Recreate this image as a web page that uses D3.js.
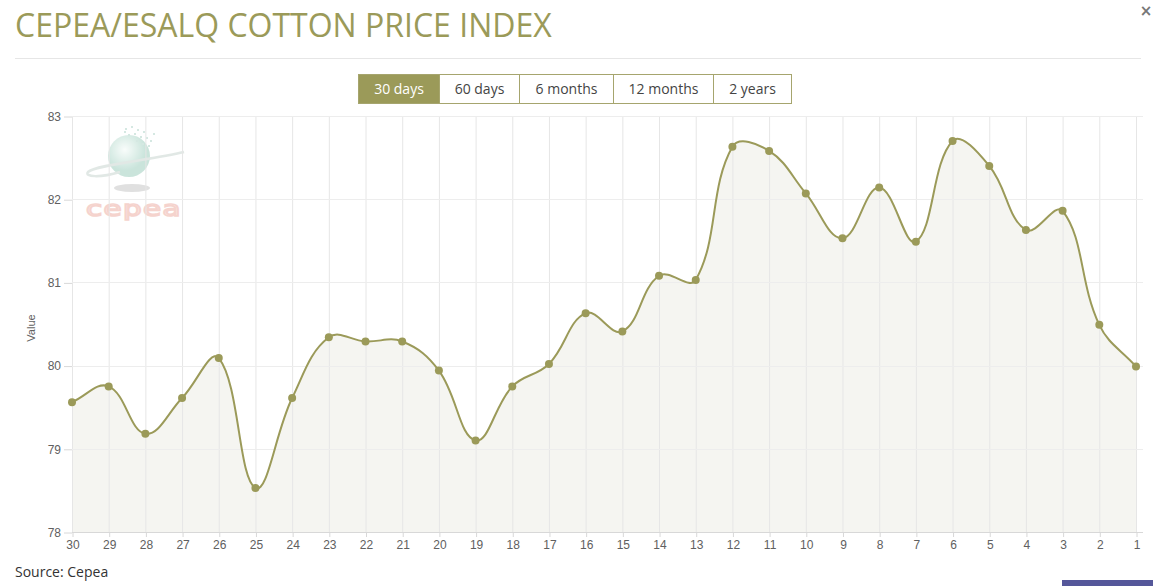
<!DOCTYPE html>
<html>
<head>
<meta charset="utf-8">
<script src="https://cdn.jsdelivr.net/npm/d3@7"></script>
<style>
  html, body { margin: 0; padding: 0; background: #fff; }
  body { width: 1153px; height: 586px; overflow: hidden; position: relative; font-family: "Open Sans", sans-serif; }
  svg { position: absolute; left: 0; top: 0; }
</style>
</head>
<body>
<svg id="chart" width="1153" height="586"></svg>
<script>
// days back (x categories) and index values
let dayLabels = ['30', '29', '28', '27', '26', '25', '24', '23', '22', '21', '20', '19', '18', '17', '16',
                 '15', '14', '13', '12', '11', '10', '9', '8', '7', '6', '5', '4', '3', '2', '1'];
let priceValues = [79.56, 79.75, 79.18, 79.61, 80.09, 78.53, 79.61, 80.34, 80.29, 80.29, 79.94, 79.10, 79.75, 80.02, 80.63,
                   80.41, 81.08, 81.03, 82.63, 82.58, 82.07, 81.53, 82.14, 81.49, 82.70, 82.40, 81.63, 81.86, 80.49, 79.99];
let yTicks = [78, 79, 80, 81, 82, 83];
let rangeButtons = ['30 days', '60 days', '6 months', '12 months', '2 years'];

let olive = '#9b9a59';
let svg = d3.select('#chart');

// distance-weighted spline for d3.line / d3.area (tension 0.4)
function SplineCurve(context) { this._context = context; }
SplineCurve.prototype = {
    areaStart: function () { this._line = 0; },
    areaEnd: function () { this._line = NaN; },
    lineStart: function () { this._pts = []; },
    point: function (x, y) { this._pts.push([+x, +y]); },
    lineEnd: function () {
        let p = this._pts, c = this._context, n = p.length;
        let tension = 0.4;
        if (n) {
            if (this._line) c.lineTo(p[0][0], p[0][1]);
            else c.moveTo(p[0][0], p[0][1]);
            let left = [], right = [];
            for (let i = 0; i < n; i++) {
                let cur = p[i], prev = p[i - 1] || cur, next = p[i + 1] || cur;
                let d01 = Math.hypot(cur[0] - prev[0], cur[1] - prev[1]);
                let d12 = Math.hypot(next[0] - cur[0], next[1] - cur[1]);
                let s01 = d01 / (d01 + d12), s12 = d12 / (d01 + d12);
                if (isNaN(s01)) s01 = 0;
                if (isNaN(s12)) s12 = 0;
                let fa = tension * s01, fb = tension * s12;
                left[i] = [cur[0] - fa * (next[0] - prev[0]), cur[1] - fa * (next[1] - prev[1])];
                right[i] = [cur[0] + fb * (next[0] - prev[0]), cur[1] + fb * (next[1] - prev[1])];
            }
            for (let i = 1; i < n; i++) {
                c.bezierCurveTo(right[i - 1][0], right[i - 1][1], left[i][0], left[i][1], p[i][0], p[i][1]);
            }
        }
        if (this._line || (this._line !== 0 && n === 1)) c.closePath();
        this._line = 1 - this._line;
    }
};
let spline = context => new SplineCurve(context);

// title + rule + close mark
svg.append('text')
    .attr('x', 15).attr('y', 37)
    .attr('font-family', 'Open Sans').attr('font-size', 32)
    .attr('fill', olive)
    .text('CEPEA/ESALQ COTTON PRICE INDEX');
svg.append('line')
    .attr('x1', 15).attr('x2', 1141).attr('y1', 58.5).attr('y2', 58.5)
    .attr('stroke', '#e6e6e6');
svg.append('text')
    .attr('x', 1146).attr('y', 16).attr('text-anchor', 'middle')
    .attr('font-family', 'DejaVu Sans').attr('font-size', 15).attr('font-weight', 'bold')
    .attr('fill', '#777').text('×');

// range selector buttons
let buttonWidths = [81, 80, 94, 100, 78];
let bx = 358.5;
let buttons = svg.append('g');
rangeButtons.forEach((label, i) => {
    let active = i === 0;
    buttons.append('rect')
        .attr('x', bx).attr('y', 74.5).attr('width', buttonWidths[i]).attr('height', 29)
        .attr('fill', active ? olive : '#fff')
        .attr('stroke', '#a6a56e');
    buttons.append('text')
        .attr('x', bx + buttonWidths[i] / 2).attr('y', 94)
        .attr('text-anchor', 'middle')
        .attr('font-family', 'Open Sans').attr('font-size', 14)
        .attr('fill', active ? '#fff' : '#444')
        .text(label);
    bx += buttonWidths[i];
});

// plot area
let plot = {left: 72, right: 1136, top: 116, bottom: 532, edge: 1143};

let xScale = d3.scalePoint()
    .domain(dayLabels)
    .range([plot.left, plot.right]);

let yScale = d3.scaleLinear()
    .domain([78, 83])
    .range([plot.bottom, plot.top]);

// faint cepea logo watermark
let logo = svg.append('g').attr('opacity', 0.55);
let defs = svg.append('defs');
let grad = defs.append('radialGradient').attr('id', 'globe').attr('cx', '40%').attr('cy', '35%');
grad.append('stop').attr('offset', '0%').attr('stop-color', '#f4fbf8');
grad.append('stop').attr('offset', '100%').attr('stop-color', '#9fcfbf');
logo.append('ellipse').attr('cx', 132).attr('cy', 188).attr('rx', 18).attr('ry', 4).attr('fill', '#c8c8c8');
logo.append('circle').attr('cx', 129).attr('cy', 156).attr('r', 21).attr('fill', 'url(#globe)');
logo.append('path')
    .attr('d', 'M184,152 C150,160 95,165 88,172 C84,177 100,178 120,172')
    .attr('fill', 'none').attr('stroke', '#c9d6d0').attr('stroke-width', 2.5);
[[125, 128], [131, 126], [137, 129], [143, 131], [128, 134], [134, 133], [140, 136], [146, 137], [150, 140],
 [136, 140], [142, 143], [148, 145], [153, 133], [124, 131]].forEach(p => {
    logo.append('rect').attr('x', p[0]).attr('y', p[1]).attr('width', 2).attr('height', 2).attr('fill', '#b4d6cc');
});
logo.append('text')
    .attr('x', 134).attr('y', 216).attr('text-anchor', 'middle')
    .attr('font-family', 'DejaVu Sans').attr('font-size', 21).attr('letter-spacing', 1)
    .attr('fill', '#fdf3f1').attr('stroke', '#eeb0a6').attr('stroke-width', 1.6)
    .attr('transform', 'translate(134,0) scale(1.4,1) translate(-134,0)')
    .text('cepea');

// area under the spline
let area = d3.area()
    .x((d, i) => xScale(dayLabels[i]))
    .y0(yScale(78))
    .y1(d => yScale(d))
    .curve(spline);
svg.append('path')
    .datum(priceValues)
    .attr('fill', '#f5f5f1')
    .attr('d', area);

// grid lines
svg.append('g')
    .selectAll('line')
    .data(dayLabels)
    .join('line')
    .attr('x1', d => xScale(d) + 0.5).attr('x2', d => xScale(d) + 0.5)
    .attr('y1', plot.top).attr('y2', plot.bottom)
    .attr('stroke', '#e6e6e6');
svg.append('g')
    .selectAll('line')
    .data(yTicks)
    .join('line')
    .attr('x1', plot.left).attr('x2', plot.edge)
    .attr('y1', d => Math.round(yScale(d)) + 0.5).attr('y2', d => Math.round(yScale(d)) + 0.5)
    .attr('stroke', d => d === 78 ? '#d8d8d8' : '#ededed');

// y axis
let yAxis = d3.axisLeft(yScale)
    .tickValues(yTicks)
    .tickFormat(d3.format('d'))
    .tickSize(8)
    .tickPadding(3);
let yAxisG = svg.append('g')
    .attr('transform', `translate(${plot.left}, 0.5)`)
    .call(yAxis);
yAxisG.select('.domain').remove();
yAxisG.selectAll('line').attr('stroke', '#d8d8d8');
yAxisG.selectAll('text')
    .attr('font-family', 'Liberation Sans').attr('font-size', 12).attr('fill', '#606060');

svg.append('text')
    .attr('transform', 'translate(35, 328) rotate(-90)')
    .attr('text-anchor', 'middle')
    .attr('font-family', 'Liberation Sans').attr('font-size', 11).attr('fill', '#606060')
    .text('Value');

// x axis
let xAxis = d3.axisBottom(xScale)
    .tickSize(5)
    .tickPadding(3);
let xAxisG = svg.append('g')
    .attr('transform', `translate(0.5, ${plot.bottom})`)
    .call(xAxis);
xAxisG.select('.domain').remove();
xAxisG.selectAll('line').attr('stroke', '#d8d8d8');
xAxisG.selectAll('text')
    .attr('font-family', 'Liberation Sans').attr('font-size', 12).attr('fill', '#606060');

// the spline itself and its markers
let line = d3.line()
    .x((d, i) => xScale(dayLabels[i]))
    .y(d => yScale(d))
    .curve(spline);
svg.append('path')
    .datum(priceValues)
    .attr('fill', 'none')
    .attr('stroke', olive)
    .attr('stroke-width', 2)
    .attr('d', line);
svg.append('g')
    .selectAll('circle')
    .data(priceValues)
    .join('circle')
    .attr('cx', (d, i) => xScale(dayLabels[i]))
    .attr('cy', d => yScale(d))
    .attr('r', 4)
    .attr('fill', olive);

// source note + bottom strip
svg.append('text')
    .attr('x', 15).attr('y', 577)
    .attr('font-family', 'Open Sans').attr('font-size', 14).attr('fill', '#333')
    .text('Source: Cepea');
svg.append('rect')
    .attr('x', 1062).attr('y', 580).attr('width', 91).attr('height', 6)
    .attr('fill', '#55579a');
</script>
</body>
</html>
